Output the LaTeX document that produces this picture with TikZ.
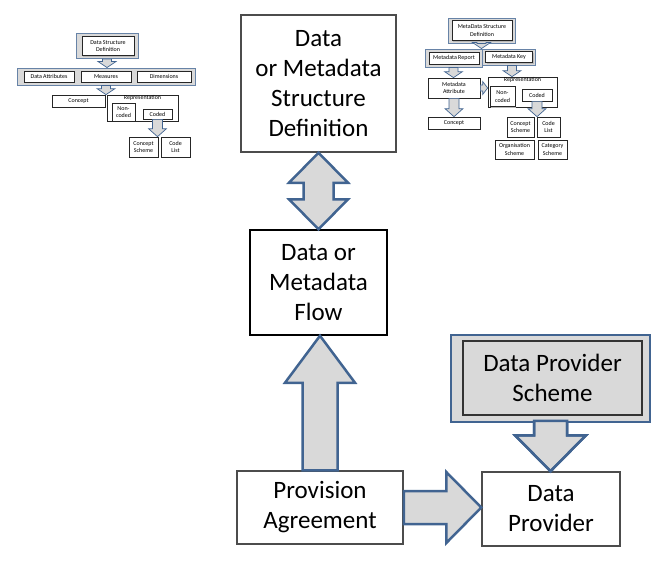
\documentclass[tikz,border=0pt]{standalone}
\usepackage{fontspec}
\setmainfont{Carlito}
\usetikzlibrary{calc,shadows}
\definecolor{arrblue}{RGB}{65,100,145}
\definecolor{arrfill}{RGB}{217,217,217}
% single block arrow from #2 to #3: shaft half width #4, head half width #5, head length #6
\newcommand\BArrow[6][]{%
  \path ($(#3)!#6!(#2)$) coordinate (bah);
  \draw[#1] ($(#2)!#4!90:(#3)$) -- ($(bah)!#4!90:(#3)$) -- ($(bah)!#5!90:(#3)$) -- (#3)
    -- ($(bah)!#5!-90:(#3)$) -- ($(bah)!#4!-90:(#3)$) -- ($(#2)!#4!-90:(#3)$) -- cycle;}
% same, but the base edge is not stroked
\newcommand\OBArrow[6][]{%
  \path ($(#3)!#6!(#2)$) coordinate (bah);
  \fill[#1] ($(#2)!#4!90:(#3)$) -- ($(bah)!#4!90:(#3)$) -- ($(bah)!#5!90:(#3)$) -- (#3)
    -- ($(bah)!#5!-90:(#3)$) -- ($(bah)!#4!-90:(#3)$) -- ($(#2)!#4!-90:(#3)$) -- cycle;
  \draw[#1,fill=none] ($(#2)!#4!90:(#3)$) -- ($(bah)!#4!90:(#3)$) -- ($(bah)!#5!90:(#3)$) -- (#3)
    -- ($(bah)!#5!-90:(#3)$) -- ($(bah)!#4!-90:(#3)$) -- ($(#2)!#4!-90:(#3)$);}
% double block arrow
\newcommand\DBArrow[6][]{%
  \path ($(#2)!#6!(#3)$) coordinate (bha) ($(#3)!#6!(#2)$) coordinate (bhb);
  \draw[#1] (#2) -- ($(bha)!#5!-90:(#3)$) -- ($(bha)!#4!-90:(#3)$) -- ($(bhb)!#4!90:(#2)$)
    -- ($(bhb)!#5!90:(#2)$) -- (#3) -- ($(bhb)!#5!-90:(#2)$) -- ($(bhb)!#4!-90:(#2)$)
    -- ($(bha)!#4!90:(#3)$) -- ($(bha)!#5!90:(#3)$) -- cycle;}
\tikzset{
  bigbox/.style={draw, fill=white, align=center, inner sep=0pt, line width=1.5pt,
    font=\fontsize{25}{30}\selectfont},
  barr/.style={fill=arrfill, draw=arrblue, line width=2.5pt, line join=miter},
  tbox/.style={draw=gray!30!black, fill=white, line width=0.7pt, align=center, inner sep=0pt,
    font=\fontsize{6}{7.2}\selectfont,
    drop shadow={shadow xshift=1pt, shadow yshift=-1pt, fill=gray!55, opacity=1}},
  tframe/.style={draw=arrblue!80, fill=arrfill, line width=0.9pt, inner sep=0pt},
  tarr/.style={fill=arrfill, draw=arrblue, line width=0.7pt, line join=miter},
  tlab/.style={font=\fontsize{6}{7.2}\selectfont, anchor=north, inner sep=0.6pt}
}
\begin{document}
\begin{tikzpicture}[x=1pt,y=-1pt]
\useasboundingbox (0,0) rectangle (668,576);

% ---------- main diagram ----------
\node[bigbox, draw=gray!60!black, minimum width=155, minimum height=137] (dsd) at (318.5,83.5)
  {Data\\or Metadata\\Structure\\Definition};
\node[bigbox, draw=black, minimum width=137, minimum height=105] (flow) at (318.5,282.5)
  {Data or\\Metadata\\Flow};
\node[bigbox, draw=gray!60!black, minimum width=166, minimum height=73] (pa) at (320,507.5)
  {Provision\\Agreement};
\node[bigbox, draw=gray!60!black, minimum width=138, minimum height=74] (dp) at (551,509)
  {Data\\Provider};
\node[fill=arrfill, draw=arrblue, line width=2.5pt, inner sep=0pt,
  minimum width=199, minimum height=87] (dpsf) at (550.5,378.5) {};
\node[bigbox, fill=arrfill, draw=gray!40!black, minimum width=179, minimum height=74] (dps)
  at (552.5,378) {Data Provider\\Scheme};

\DBArrow[barr]{dsd.south}{flow.north}{15pt}{29.5pt}{30pt}
\coordinate (uptip) at (pa.north |- flow.south);
\BArrow[barr]{pa.north}{uptip}{17.5pt}{35pt}{47pt}
\coordinate (rtip) at (dp.west |- pa.east);
\BArrow[barr]{pa.east}{rtip}{16.5pt}{35.5pt}{35pt}
\coordinate (dbase) at ($(dpsf.south)+(0,-2.5)$);
\coordinate (dtip) at (dpsf.south |- dp.north);
\OBArrow[barr]{dbase}{dtip}{16.5pt}{35.5pt}{36pt}

% ---------- left thumbnail ----------
\node[tframe, minimum width=62, minimum height=25] (ldsdf) at (107,46) {};
\node[tbox, minimum width=52, minimum height=19] (ldsd) at (108,46) {Data Structure\\Definition};
\node[tframe, minimum width=178, minimum height=17] (lrow) at (106,76.5) {};
\node[tbox, minimum width=50, minimum height=11] (lda) at (49,76.5) {Data Attributes};
\node[tbox, minimum width=50, minimum height=11] (lme) at (106,76.5) {Measures};
\node[tbox, minimum width=54, minimum height=11] (ldi) at (164,76.5) {Dimensions};
\node[tbox, minimum width=53, minimum height=12] (lco) at (78.5,101) {Concept};
\node[tbox, minimum width=71, minimum height=26,
  label={[tlab]north:Representation}] (lrep) at (142.5,108) {};
\node[tbox, minimum width=23, minimum height=18] (lnc) at (123.5,112) {Non-\\coded};
\node[tbox, minimum width=29, minimum height=10] (lcd) at (157.5,114) {Coded};
\node[tbox, minimum width=29, minimum height=20] (lcs) at (143.5,147) {Concept\\Scheme};
\node[tbox, minimum width=29, minimum height=20] (lcl) at (175.5,147) {Code\\List};

\coordinate (la1) at (ldsdf.south |- lrow.north);
\BArrow[tarr]{ldsdf.south}{la1}{4.5pt}{9pt}{6pt}
\coordinate (la2s) at (lco.north -| lrow.south);
\coordinate (la2b) at (lrow.south);
\BArrow[tarr]{la2b}{la2s}{4.5pt}{9pt}{6pt}
\coordinate (la3) at (lcd.south |- lcs.north);
\BArrow[tarr]{lcd.south}{la3}{5pt}{9pt}{8pt}

% ---------- right thumbnail ----------
\node[tframe, minimum width=67, minimum height=25] (rdsdf) at (481.5,30.5) {};
\node[tbox, minimum width=60, minimum height=20] (rdsd) at (482,30.5) {MetaData Structure\\Definition};
\node[tframe, minimum width=57, minimum height=18] (rmrf) at (453.5,58) {};
\node[tbox, minimum width=50, minimum height=12] (rmr) at (454,58) {Metadata Report};
\node[tframe, minimum width=53, minimum height=16] (rmkf) at (508.5,57) {};
\node[tbox, minimum width=47, minimum height=11] (rmk) at (509,57) {Metadata Key};
\node[tbox, minimum width=52, minimum height=20] (rma) at (454,88) {Metadata\\Attribute};
\node[tbox, minimum width=69, minimum height=30,
  label={[tlab]north:Representation}] (rrep) at (522.5,92) {};
\node[tbox, minimum width=25, minimum height=20] (rnc) at (502.5,96.5) {Non-\\coded};
\node[tbox, minimum width=30, minimum height=12] (rcd) at (537,95) {Coded};
\node[tbox, minimum width=52, minimum height=12] (rco) at (454,123) {Concept};
\node[tbox, minimum width=27, minimum height=20] (rcs) at (520.5,127) {Concept\\Scheme};
\node[tbox, minimum width=23, minimum height=20] (rcl) at (548.5,127) {Code\\List};
\node[tbox, minimum width=39, minimum height=19] (ros) at (514.5,149.5) {Organisation\\Scheme};
\node[tbox, minimum width=29, minimum height=19] (rcat) at (552.5,149.5) {Category\\Scheme};

\coordinate (ra1) at (rdsdf.south |- rmrf.north);
\BArrow[tarr]{rdsdf.south}{ra1}{4.5pt}{9pt}{6pt}
\coordinate (ra2) at (rmrf.south |- rma.north);
\BArrow[tarr]{rmrf.south}{ra2}{4.5pt}{9pt}{6pt}
\coordinate (ra3b) at ($(rmkf.south)+(3.5,0)$);
\coordinate (ra3) at (ra3b |- rrep.north);
\BArrow[tarr]{ra3b}{ra3}{4.5pt}{9pt}{6pt}
\coordinate (ra4) at (rma.east -| rrep.west);
\BArrow[tarr]{rma.east}{ra4}{3pt}{6.5pt}{5pt}
\coordinate (ra5) at (rma.south |- rco.north);
\BArrow[tarr]{rma.south}{ra5}{5pt}{9pt}{8pt}
\coordinate (ra6) at (rcd.south |- rcs.north);
\BArrow[tarr]{rcd.south}{ra6}{5pt}{9pt}{8pt}
\end{tikzpicture}
\end{document}
